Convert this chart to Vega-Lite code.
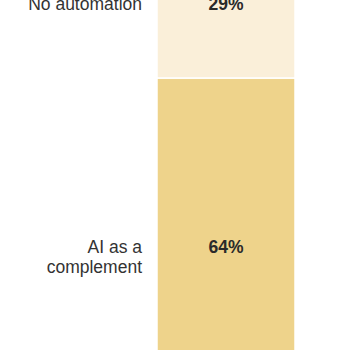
{
  "$schema": "https://vega.github.io/schema/vega-lite/v6.json",
  "width": 350,
  "height": 350,
  "autosize": {"type": "fit", "contains": "padding"},
  "padding": 0,
  "background": "white",
  "config": {"view": {"stroke": null}},
  "data": {
    "values": [
      {"group": "All", "category": "AI as a complement", "label": "AI as a\ncomplement", "value": 64, "rank": 1, "pct": "64%"},
      {"group": "All", "category": "No automation", "label": "No automation", "value": 29, "rank": 2, "pct": "29%"}
    ]
  },
  "encoding": {
    "x": {
      "field": "group", "type": "nominal", "axis": null,
      "scale": {"paddingInner": 0, "paddingOuter": 0.768, "align": 0.7406}
    },
    "y": {
      "field": "value", "type": "quantitative", "stack": "zero", "axis": null,
      "scale": {"domain": [11.89, 78.94], "nice": false, "zero": false}
    },
    "order": {"field": "rank", "type": "quantitative"}
  },
  "layer": [
    {
      "mark": {"type": "bar", "clip": true, "stroke": "white", "strokeWidth": 1.5},
      "encoding": {
        "color": {
          "field": "category", "type": "nominal", "legend": null,
          "scale": {"domain": ["AI as a complement", "No automation"], "range": ["#EED38B", "#FAEFD9"]}
        }
      }
    },
    {
      "mark": {"type": "text", "clip": true, "align": "right", "baseline": "middle", "dx": -15, "dy": 3, "fontSize": 17.5, "font": "Liberation Sans", "color": "#333333", "lineBreak": "\n", "lineHeight": 19.5},
      "encoding": {
        "x": {"field": "group", "type": "nominal", "bandPosition": 0},
        "y": {"field": "value", "type": "quantitative", "stack": "zero", "bandPosition": 0.5},
        "text": {"field": "label"}
      }
    },
    {
      "mark": {"type": "text", "clip": true, "align": "center", "baseline": "middle", "dy": 3, "fontSize": 17.5, "font": "Liberation Sans", "fontWeight": "bold", "color": "#2a2a2a"},
      "encoding": {
        "y": {"field": "value", "type": "quantitative", "stack": "zero", "bandPosition": 0.5},
        "text": {"field": "pct"}
      }
    }
  ]
}
